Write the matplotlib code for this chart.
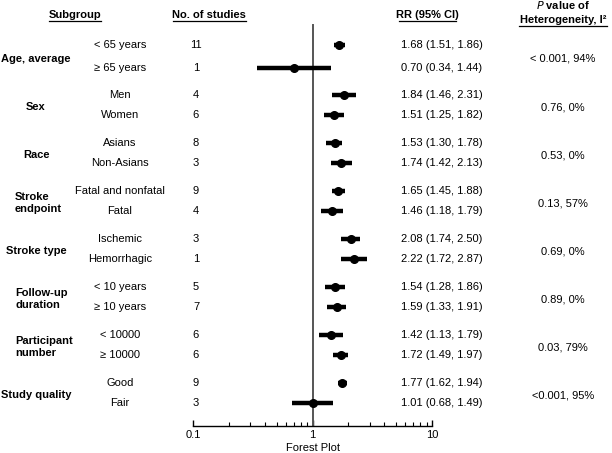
import matplotlib
matplotlib.use('Agg')
import matplotlib.pyplot as plt
from matplotlib.ticker import FixedLocator, LogLocator, NullFormatter

plt.rcParams['font.family'] = ['Liberation Sans', 'DejaVu Sans']

# data
groups = ['Age, average', 'Sex', 'Race', 'Stroke\nendpoint', 'Stroke type',
          'Follow-up\nduration', 'Participant\nnumber', 'Study quality']
subgroups = [['< 65 years', '\u2265 65 years'], ['Men', 'Women'], ['Asians', 'Non-Asians'],
             ['Fatal and nonfatal', 'Fatal'], ['Ischemic', 'Hemorrhagic'],
             ['< 10 years', '\u2265 10 years'], ['< 10000', '\u2265 10000'], ['Good', 'Fair']]
n_studies = [[11, 1], [4, 6], [8, 3], [9, 4], [3, 1], [5, 7], [6, 6], [9, 3]]
rr = [[1.68, 0.70], [1.84, 1.51], [1.53, 1.74], [1.65, 1.46], [2.08, 2.22],
      [1.54, 1.59], [1.42, 1.72], [1.77, 1.01]]
lo = [[1.51, 0.34], [1.46, 1.25], [1.30, 1.42], [1.45, 1.18], [1.74, 1.72],
      [1.28, 1.33], [1.13, 1.49], [1.62, 0.68]]
hi = [[1.86, 1.44], [2.31, 1.82], [1.78, 2.13], [1.88, 1.79], [2.50, 2.87],
      [1.86, 1.91], [1.79, 1.97], [1.94, 1.49]]
heterogeneity = ['< 0.001, 94%', '0.76, 0%', '0.53, 0%', '0.13, 57%', '0.69, 0%',
                 '0.89, 0%', '0.03, 79%', '<0.001, 95%']

W, H = 612, 453
fig = plt.figure(figsize=(W / 100, H / 100), dpi=100)


def fx(x):
    return x / W


def fy(y):
    return 1 - y / H


# plot axes, y in pixel units from top
ax = fig.add_axes([fx(193), fy(426), fx(432) - fx(193), 426 / H])
ax.set_xscale('log')
ax.set_xlim(0.1, 10)
ax.set_ylim(426, 0)
for s in ['top', 'right', 'left']:
    ax.spines[s].set_visible(False)
ax.spines['bottom'].set_linewidth(1.0)
ax.set_yticks([])
ax.xaxis.set_major_locator(FixedLocator([0.1, 1, 10]))
ax.xaxis.set_major_formatter(plt.FuncFormatter(lambda v, p: '%g' % v))
ax.xaxis.set_minor_locator(LogLocator(base=10, subs=range(2, 10)))
ax.xaxis.set_minor_formatter(NullFormatter())
ax.tick_params(axis='x', which='major', direction='in', length=4, width=1, labelsize=8, pad=3)
ax.tick_params(axis='x', which='minor', direction='in', length=3, width=0.8)
ax.plot([1, 1], [25, 426], color='#555555', lw=1.4)

fs = 8
fig.text(fx(313), fy(448), 'Forest Plot', ha='center', va='center', fontsize=fs)
# headers
fig.text(fx(75), fy(15), 'Subgroup', ha='center', va='center', fontsize=fs, fontweight='bold')
fig.text(fx(209), fy(15), 'No. of studies', ha='center', va='center', fontsize=fs, fontweight='bold')
fig.text(fx(427), fy(15), 'RR (95% CI)', ha='center', va='center', fontsize=fs, fontweight='bold')
fig.text(fx(563), fy(5), r'$\bf{\it{P}}$ value of', ha='center', va='center', fontsize=fs, fontweight='bold')
fig.text(fx(563), fy(20), 'Heterogeneity, I\u00b2', ha='center', va='center', fontsize=fs, fontweight='bold')
for x0, x1, y in [(49, 101, 21), (173, 246, 21), (399, 456, 21), (519, 607, 26)]:
    fig.add_artist(plt.Line2D([fx(x0), fx(x1)], [fy(y), fy(y)], color='black', lw=0.9))

for g, name in enumerate(groups):
    ys = [47 + 48 * g + 20 * r for r in range(2)]
    if g == 0:
        ys = [45, 68]
    gy = sum(ys) / 2 + 2
    if '\n' in name:
        fig.text(fx(15), fy(gy), name, ha='left', va='center', fontsize=fs,
                 fontweight='bold', linespacing=1.35)
    else:
        fig.text(fx(36), fy(gy), name, ha='center', va='center', fontsize=fs, fontweight='bold')
    for r in range(2):
        y = ys[r]
        fig.text(fx(120), fy(y), subgroups[g][r], ha='center', va='center', fontsize=fs)
        fig.text(fx(196), fy(y), str(n_studies[g][r]), ha='center', va='center', fontsize=fs)
        fig.text(fx(401), fy(y), '%.2f (%.2f, %.2f)' % (rr[g][r], lo[g][r], hi[g][r]),
                 ha='left', va='center', fontsize=fs)
        ax.plot([lo[g][r], hi[g][r]], [y, y], color='black', lw=3.2, solid_capstyle='butt')
        ax.plot(rr[g][r], y, marker='o', color='black', ms=5.5)
    fig.text(fx(563), fy(gy), heterogeneity[g], ha='center', va='center', fontsize=fs)

fig.savefig('out.png', dpi=100)
